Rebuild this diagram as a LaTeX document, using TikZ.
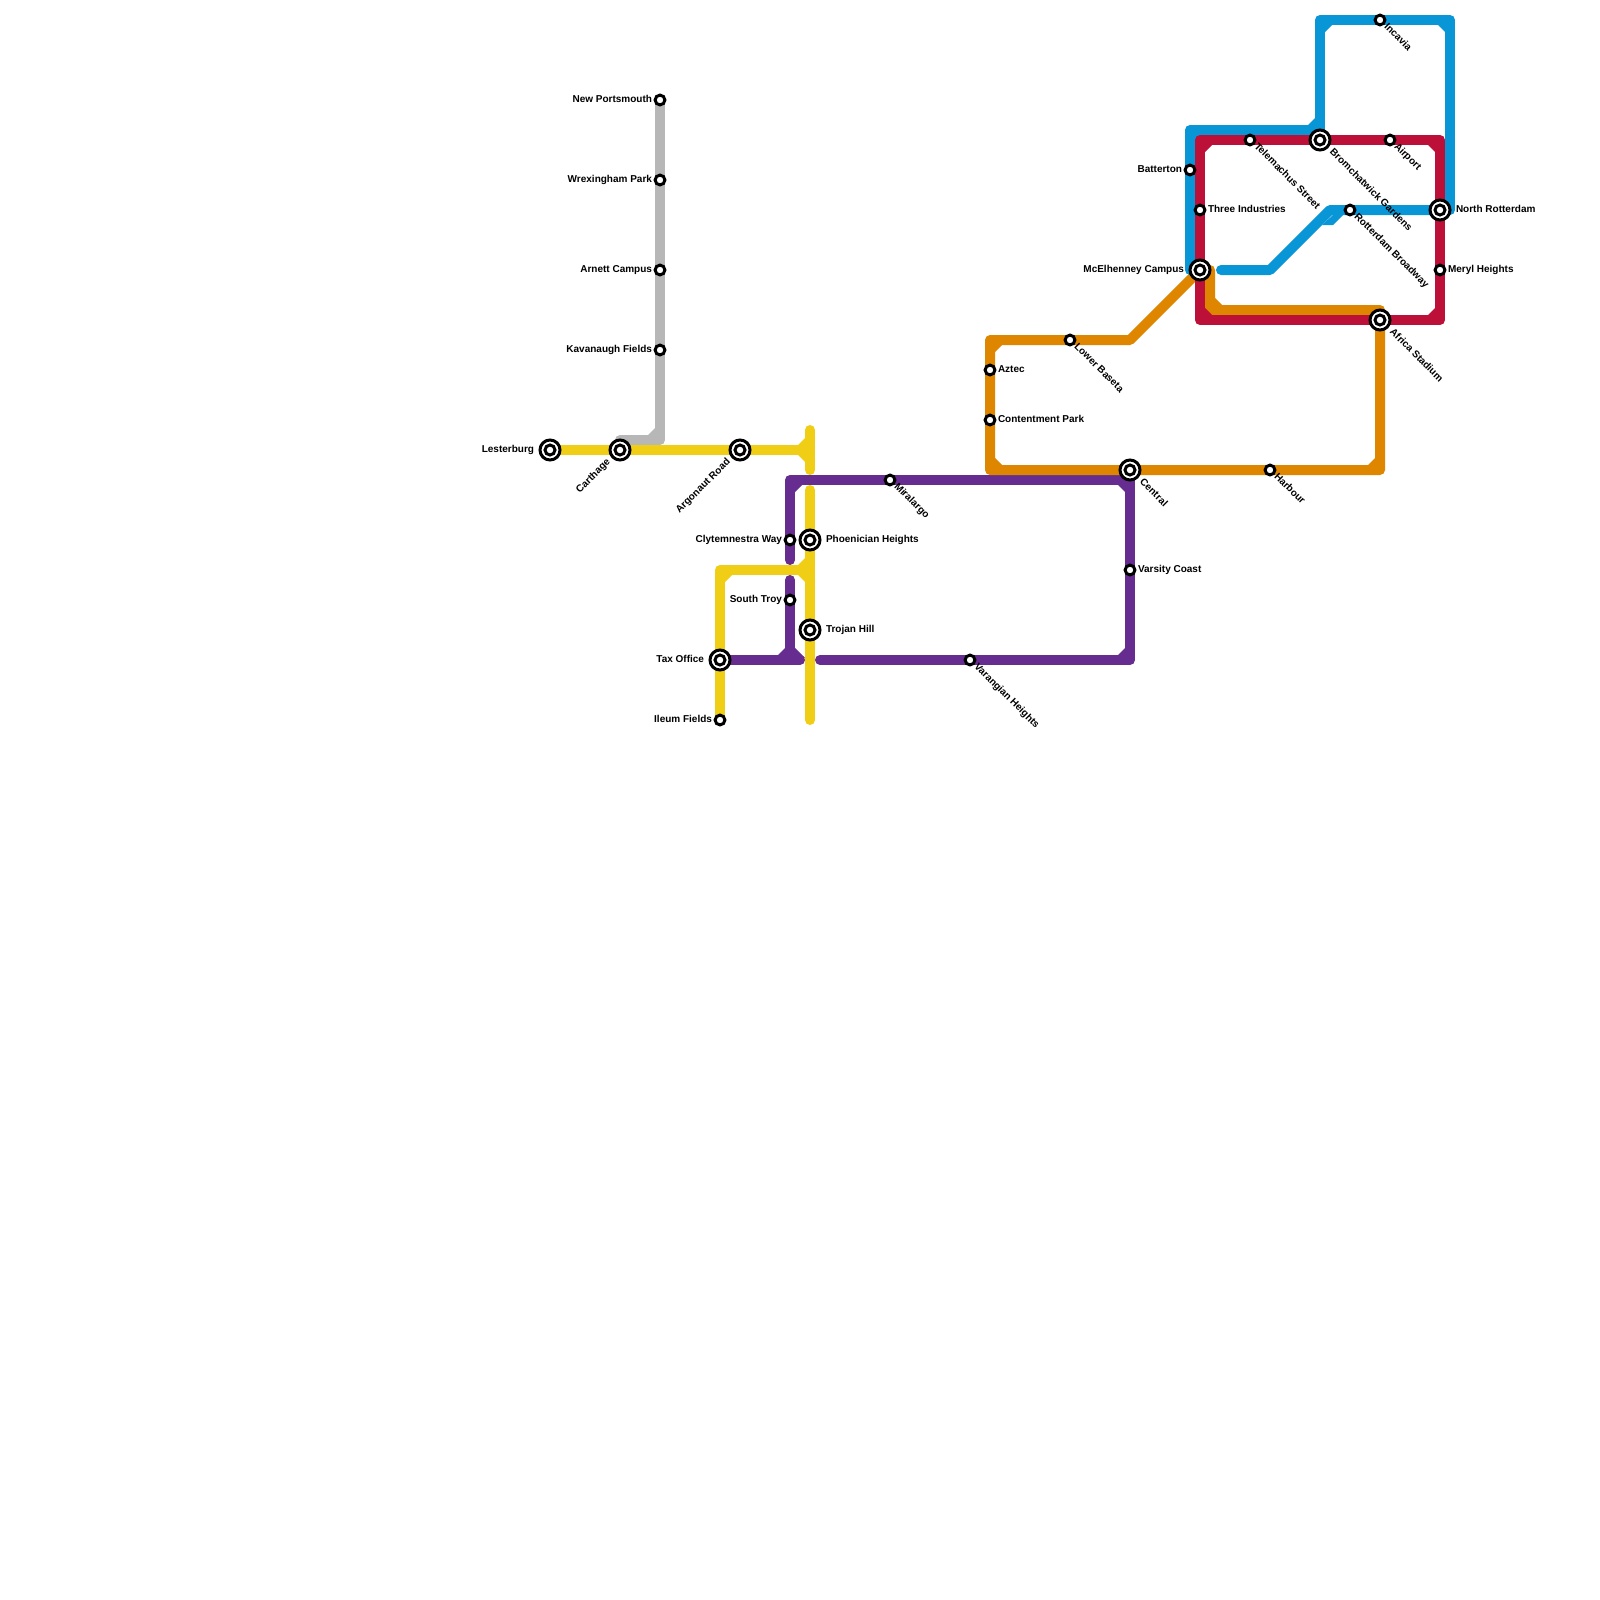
\documentclass[tikz,border=0pt]{standalone}
\usepackage{fontspec}
\setmainfont{Liberation Sans}
\usetikzlibrary{positioning, calc, backgrounds}
\definecolor{mgrey}{HTML}{B7B7B7}
\definecolor{myellow}{HTML}{F0CE15}
\definecolor{mpurple}{HTML}{662C90}
\definecolor{morange}{HTML}{DF8600}
\definecolor{mblue}{HTML}{0896D7}
\definecolor{mred}{HTML}{BD1038}
\tikzset{
  every picture/.style={x=0.5pt, y=-0.5pt},
  tube/.style={draw=#1, line width=5pt, line cap=round, line join=round},
  stop/.style={circle, draw=black, fill=white, line width=1.5pt, minimum size=4.9pt, inner sep=0pt, outer sep=0pt},
  hub/.style={stop, minimum size=10pt,
    path picture={\draw[line width=1.5pt] (path picture bounding box.center) circle (2.5pt);}},
  lbl/.style={font=\bfseries\fontsize{5}{6}\selectfont, inner sep=0pt, outer sep=0pt, text height=3.3pt, text depth=1pt},
}
% small corner wedges: x/y of the inner corner, then direction of the two legs
\newcommand{\wedges}[2]{\foreach \x/\y/\i/\j in {#2} \fill[#1] (\x,\y) -- ++(7*\i,0) -- ++(-7*\i,7*\j) -- cycle;}

\begin{document}
\begin{tikzpicture}
  \useasboundingbox (0,0) rectangle (1600,1600);
  % stations
  \foreach \n/\x/\y in {newportsmouth/660/100, wrexingham/660/180, arnett/660/270, kavanaugh/660/350,
      ileum/720/720, clytemnestra/790/540, southtroy/790/600, miralargo/890/480, varangian/970/660,
      varsity/1130/570, aztec/990/370, contentment/990/420, lowerbaseta/1070/340, harbour/1270/470,
      batterton/1190/170, threeind/1200/210, telemachus/1250/140, airport/1390/140, rotterdam/1350/210,
      meryl/1440/270, incavia/1380/20} {
    \node[stop] (\n) at (\x,\y) {};
  }
  \foreach \n/\x/\y in {lesterburg/550/450, carthage/620/450, argonaut/740/450, taxoffice/720/660,
      phoenician/810/540, trojan/810/630, central/1130/470, mcelhenney/1200/270, africa/1380/320,
      bromchatwick/1320/140, northrott/1440/210} {
    \node[hub] (\n) at (\x,\y) {};
  }
  % labels
  \foreach \n/\t in {newportsmouth/New Portsmouth, wrexingham/Wrexingham Park, arnett/Arnett Campus,
      kavanaugh/Kavanaugh Fields, ileum/Ileum Fields, clytemnestra/Clytemnestra Way, southtroy/South Troy,
      batterton/Batterton} {
    \node[lbl, left=1.55pt of \n] (\n-t) {\t};
  }
  \foreach \n/\t in {lesterburg/Lesterburg, taxoffice/Tax Office, mcelhenney/McElhenney Campus} {
    \node[lbl, left=3pt of \n] (\n-t) {\t};
  }
  \foreach \n/\t in {aztec/Aztec, contentment/Contentment Park, varsity/Varsity Coast,
      threeind/Three Industries, meryl/Meryl Heights} {
    \node[lbl, right=1.55pt of \n] (\n-t) {\t};
  }
  \foreach \n/\t in {phoenician/Phoenician Heights, trojan/Trojan Hill, northrott/North Rotterdam} {
    \node[lbl, right=3pt of \n] (\n-t) {\t};
  }
  \foreach \n/\t in {miralargo/Miralargo, varangian/Varangian Heights, lowerbaseta/Lower Baseta, harbour/Harbour,
      telemachus/Telemachus Street, airport/Airport, rotterdam/Rotterdam Broadway, incavia/Incavia} {
    \node[lbl, rotate=-45, anchor=west] (\n-t) at ($(\n)+(5.5,5.5)$) {\t};
  }
  \foreach \n/\t in {central/Central, africa/Africa Stadium, bromchatwick/Bromchatwick Gardens} {
    \node[lbl, rotate=-45, anchor=west] (\n-t) at ($(\n)+(11,11)$) {\t};
  }
  \foreach \n/\t in {carthage/Carthage, argonaut/Argonaut Road} {
    \node[lbl, rotate=45, anchor=east] (\n-t) at ($(\n)+(-11,11)$) {\t};
  }
  % free ends and corners of the lines
  \coordinate (g1) at (660,440);
  \coordinate (y1) at (810,450);
  \coordinate (y2) at (810,430);
  \coordinate (y3) at (810,470);
  \coordinate (y4) at (810,490);
  \coordinate (y5) at (810,570);
  \coordinate (y6) at (810,720);
  \coordinate (y7) at (720,570);
  \coordinate (p1) at (790,560);
  \coordinate (p2) at (790,480);
  \coordinate (p3) at (1130,480);
  \coordinate (p4) at (1130,660);
  \coordinate (p5) at (820,660);
  \coordinate (p6) at (790,580);
  \coordinate (p7) at (790,660);
  \coordinate (p8) at (800,660);
  \coordinate (o1) at (1130,340);
  \coordinate (o2) at (990,340);
  \coordinate (o3) at (990,470);
  \coordinate (o4) at (1380,470);
  \coordinate (o5) at (1380,310);
  \coordinate (o6) at (1210,310);
  \coordinate (o7) at (1210,270);
  \coordinate (b1) at (1190,270);
  \coordinate (b2) at (1190,130);
  \coordinate (b3) at (1320,130);
  \coordinate (b4) at (1320,20);
  \coordinate (b5) at (1450,20);
  \coordinate (b6) at (1450,210);
  \coordinate (b7) at (1221,270);
  \coordinate (b8) at (1270,270);
  \coordinate (b9) at (1330,210);
  \coordinate (r1) at (1200,140);
  \coordinate (r2) at (1440,140);
  \coordinate (r3) at (1440,320);
  \coordinate (r4) at (1200,320);
  % lines, under the stations
  \begin{scope}[on background layer]
    \draw[tube=mgrey] (newportsmouth.center) -- (wrexingham.center) -- (arnett.center) -- (kavanaugh.center) -- (g1) -- (carthage.center |- g1);
    \wedges{mgrey}{655/435/-1/-1}
    \draw[tube=myellow] (lesterburg.center) -- (carthage.center) -- (argonaut.center) -- (y1);
    \draw[tube=myellow] (y2) -- (y3);
    \draw[tube=myellow] (y4) -- (phoenician.center) -- (y5) -- (trojan.center) -- (y6);
    \draw[tube=myellow] (y5) -- (y7) -- (taxoffice.center) -- (ileum.center);
    \wedges{myellow}{805/445/-1/-1, 805/455/-1/1, 805/565/-1/-1, 805/575/-1/1, 725/575/1/1}
    \draw[tube=mpurple] (p1) -- (clytemnestra.center) -- (p2) -- (miralargo.center) -- (p3) -- (varsity.center) -- (p4) -- (varangian.center) -- (p5);
    \draw[tube=mpurple] (p6) -- (southtroy.center) -- (p7);
    \draw[tube=mpurple] (taxoffice.center) -- (p8);
    \wedges{mpurple}{795/485/1/1, 1125/485/-1/1, 1125/655/-1/-1, 785/655/-1/-1}
    \fill[mpurple] (795,658) -- (805,658) -- (795,648) -- cycle;
    \draw[tube=morange] (mcelhenney.center) -- (o1) -- (lowerbaseta.center) -- (o2) -- (aztec.center) -- (contentment.center) -- (o3) -- (central.center) -- (harbour.center) -- (o4) -- (africa.center) -- (o5) -- (o6) -- (o7);
    \wedges{morange}{995/345/1/1, 995/465/1/-1, 1375/465/-1/-1, 1215/305/1/-1}
    \draw[tube=mblue] (b1) -- (batterton.center) -- (b2) -- (b3) -- (b4) -- (incavia.center) -- (b5) -- (b6) -- (northrott.center);
    \draw[tube=mblue] (b3) -- (bromchatwick.center);
    \draw[tube=mblue] (b7) -- (b8) -- (b9) -- (rotterdam.center) -- (northrott.center);
    \wedges{mblue}{1325/25/1/1, 1445/25/-1/1, 1315/125/-1/-1, 1195/135/1/1}
    \fill[mblue] (1322,225) -- (1333,225) -- (1343,215) -- (1333,215) -- cycle;
    \draw[tube=mred] (r1) -- (telemachus.center) -- (bromchatwick.center) -- (airport.center) -- (r2) -- (northrott.center) -- (meryl.center) -- (r3) -- (africa.center) -- (r4) -- (mcelhenney.center) -- (threeind.center) -- cycle;
    \wedges{mred}{1205/145/1/1, 1435/145/-1/1, 1435/315/-1/-1, 1205/315/1/-1}
  \end{scope}
\end{tikzpicture}
\end{document}
